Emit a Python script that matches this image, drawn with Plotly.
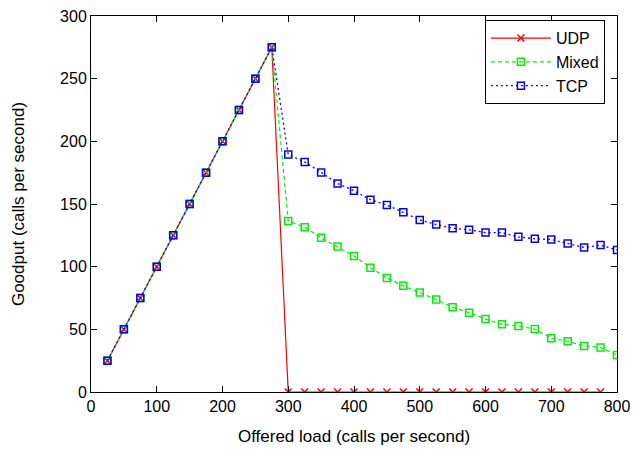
import plotly.graph_objects as go

# Rising (identical for all three protocols)
rise_x = [25, 50, 75, 100, 125, 150, 175, 200, 225, 250, 275]
rise_y = [25, 50, 75, 100, 125, 150, 175, 200, 225, 250, 275]

udp_tail_x = [300, 325, 350, 375, 400, 425, 450, 475, 500, 525, 550, 575, 600, 625, 650, 675, 700, 725, 750, 775]
udp_tail_y = [0] * 20

mixed_tail_x = [300, 325, 350, 375, 400, 425, 450, 475, 500, 525, 550, 575, 600, 625, 650, 675, 700, 725, 750, 775, 800]
mixed_tail_y = [136.5, 131.5, 123, 116, 108.5, 99.2, 91, 84.7, 79.4, 73.8, 67.7, 63.3, 58.2, 54, 52.6, 50.2, 42.9, 40.5, 36.8, 35.5, 29.6]

tcp_tail_x = [300, 325, 350, 375, 400, 425, 450, 475, 500, 525, 550, 575, 600, 625, 650, 675, 700, 725, 750, 775, 800]
tcp_tail_y = [189.4, 183.6, 175.2, 166.4, 160.6, 153.4, 149.2, 143.4, 137.3, 133.6, 130.7, 129.4, 127.2, 127.2, 123.8, 122.2, 121.7, 118.5, 115.3, 117.2, 113.3]

series_names = ["UDP", "Mixed", "TCP"]
x_ticks = [0, 100, 200, 300, 400, 500, 600, 700, 800]
y_ticks = [0, 50, 100, 150, 200, 250, 300]

FONT = "Liberation Sans, Arial, Helvetica"

fig = go.Figure()
fig.add_trace(go.Scatter(
    x=rise_x + udp_tail_x, y=rise_y + udp_tail_y, name=series_names[0],
    mode="lines+markers",
    line=dict(color="#ff0000", width=1.2, dash="solid"),
    marker=dict(symbol="x-thin", size=7, line=dict(color="#ff0000", width=1.5)),
))
fig.add_trace(go.Scatter(
    x=rise_x + mixed_tail_x, y=rise_y + mixed_tail_y, name=series_names[1],
    mode="lines+markers",
    line=dict(color="#00f000", width=1.2, dash="4px,3px"),
    marker=dict(symbol="square-open", size=7, color="#00f000", line=dict(width=1.5)),
))
fig.add_trace(go.Scatter(
    x=rise_x + tcp_tail_x, y=rise_y + tcp_tail_y, name=series_names[2],
    mode="lines+markers",
    line=dict(color="#0000ff", width=1.3, dash="2px,3px"),
    marker=dict(symbol="square-open", size=7, color="#0000ff", line=dict(width=1.5)),
))

axis_common = dict(
    showgrid=False, zeroline=False, showline=True, linecolor="black", linewidth=1,
    mirror="ticks", ticks="inside", ticklen=6, tickcolor="black", automargin=False,
    tickfont=dict(family=FONT, size=16, color="black"),
)
fig.update_xaxes(range=[0, 800], tickvals=x_ticks,
                 title=dict(text="Offered load (calls per second)", font=dict(family=FONT, size=17, color="black"), standoff=15),
                 **axis_common)
fig.update_yaxes(range=[0, 300], tickvals=y_ticks,
                 title=dict(text="Goodput (calls per second)", font=dict(family=FONT, size=17, color="black"), standoff=31),
                 **axis_common)

fig.update_layout(
    width=635, height=449,
    margin=dict(l=91, r=18, t=16, b=57),
    paper_bgcolor="white", plot_bgcolor="white",
    font=dict(family=FONT, color="black"),
    legend=dict(x=0.977, y=0.989, xanchor="right", yanchor="top",
                bordercolor="black", borderwidth=1, bgcolor="white",
                font=dict(size=16), tracegroupgap=0, itemwidth=60),
)
fig.write_html("out.html", config={"displayModeBar": False},
               post_script="document.body.style.margin='0';")
